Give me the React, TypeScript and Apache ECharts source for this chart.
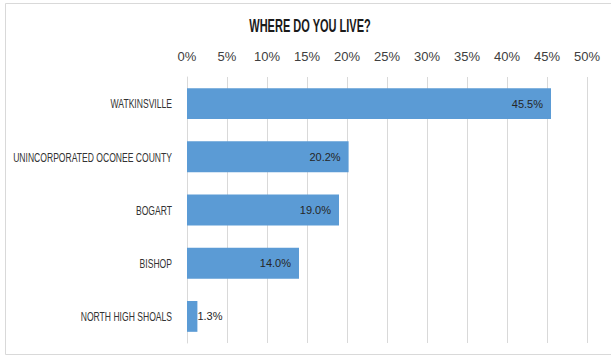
import React, { useEffect, useRef } from "react";
import * as echarts from "echarts";

const categories = [
  "WATKINSVILLE",
  "UNINCORPORATED OCONEE COUNTY",
  "BOGART",
  "BISHOP",
  "NORTH HIGH SHOALS",
];
const values = [45.5, 20.2, 19.0, 14.0, 1.3];
const titleText = "WHERE DO YOU LIVE?";

const FONT = "'Liberation Sans', Arial, sans-serif";

export default function App() {
  const ref = useRef<HTMLDivElement>(null);
  useEffect(() => {
    if (!ref.current) return;
    const chart = echarts.init(ref.current, undefined, { renderer: "svg" });
    chart.setOption({
      animation: false,
      backgroundColor: "#ffffff",
      grid: { left: 187, top: 77, width: 400, height: 266, outerBoundsMode: "none", containLabel: false },
      xAxis: {
        type: "value",
        position: "top",
        min: 0,
        max: 50,
        interval: 5,
        axisLine: { show: false },
        axisTick: { show: false },
        splitLine: { show: true, lineStyle: { color: "#d9d9d9", width: 1 } },
        axisLabel: {
          formatter: "{value}%",
          fontFamily: FONT,
          fontSize: 13,
          color: "#404040",
          margin: 14,
        },
      },
      yAxis: {
        type: "category",
        data: categories,
        inverse: true,
        axisLine: { show: true, lineStyle: { color: "#d9d9d9" } },
        axisTick: { show: false },
        axisLabel: { show: false },
      },
      series: [
        {
          type: "bar",
          data: values.map((v, i) => ({
            value: v,
            label:
              i === values.length - 1
                ? { position: "right", distance: 0 }
                : { position: "insideRight", distance: 8 },
          })),
          barCategoryGap: "42%",
          itemStyle: { color: "#5b9bd5" },
          label: {
            show: true,
            formatter: (p: any) => p.value.toFixed(1) + "%",
            fontFamily: FONT,
            fontSize: 11,
            color: "#262626",
          },
        },
      ],
    });

    const gridLeft = chart.convertToPixel({ xAxisIndex: 0 }, 0) as number;
    const catLabels = categories.map((c) => {
      const y = chart.convertToPixel({ yAxisIndex: 0 }, c) as number;
      return {
        type: "text",
        x: gridLeft - 15,
        y,
        scaleX: 0.66,
        silent: true,
        style: {
          text: c,
          fontFamily: FONT,
          fontSize: 13,
          fill: "#333333",
          align: "right",
          verticalAlign: "middle",
        },
      };
    });

    chart.setOption({
      graphic: [
        {
          type: "rect",
          shape: { x: 5.5, y: 3.5, width: 620, height: 351 },
          style: { fill: "none", stroke: "#d9d9d9", lineWidth: 1 },
          silent: true,
        },
        {
          type: "text",
          x: 310,
          y: 25,
          scaleX: 0.58,
          silent: true,
          style: {
            text: titleText,
            fontFamily: FONT,
            fontSize: 19,
            fontWeight: "bold",
            fill: "#1a1a1a",
            align: "center",
            verticalAlign: "middle",
          },
        },
        ...catLabels,
      ],
    });
    return () => chart.dispose();
  }, []);
  return (
    <div
      ref={ref}
      style={{ position: "fixed", left: 0, top: 0, width: 611, height: 357 }}
    />
  );
}
